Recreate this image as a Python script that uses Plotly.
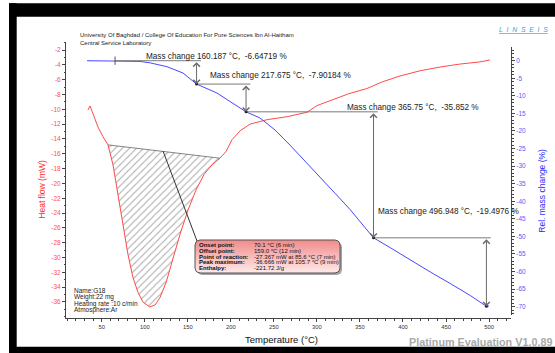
import numpy as np
import plotly.graph_objects as go

# ---------------- data ----------------
# DSC heat flow (mW) against temperature (°C)
hf_temp = [34, 36.4, 39.9, 45.7, 51.5, 57.3, 63.1, 68.9, 74.7, 80.5, 86.3, 92.1, 97.9,
           105.7, 112, 117.7, 124.7, 131.6, 140.9, 150.2, 159.5, 168.8, 178.1, 187.4,
           194.4, 201.4, 210.8, 222.3, 242.1, 265.3, 288.5, 300.1, 318.7, 337, 358,
           376, 396.6, 420, 443, 466, 489.5, 501]
hf_mw = [-10.1, -9.55, -10.6, -12.4, -13.7, -14.8, -17.5, -21.5, -25.6, -29.6, -32.7,
         -34.7, -36.0, -36.666, -36.4, -35.4, -33.4, -30.6, -26.9, -23.6, -20.9, -18.8,
         -17.5, -16.6, -15.7, -14.1, -12.9, -12.0, -11.4, -11.0, -10.4, -9.5, -8.7,
         -7.9, -7.2, -6.3, -5.5, -4.8, -4.3, -3.9, -3.6, -3.35]

# TG relative mass change (%) against temperature (°C)
tg_temp = [33, 77, 94.5, 106, 125.8, 144.4, 160.187, 183.9, 202.5, 217.675, 233.9,
           251.3, 268.7, 286.2, 303.6, 321, 338.4, 352.3, 365.75, 385.2, 408.4, 431.6,
           454.9, 478.1, 496.948, 500]
tg_pct = [0, 0, -0.2, -0.6, -1.7, -3.5, -6.64719, -9.2, -12.05, -14.54903, -16.3,
          -19.7, -24.0, -28.5, -33.1, -37.7, -42.3, -46.5, -50.40103, -53.2, -56.7,
          -60.1, -63.4, -66.8, -69.89863, -69.8]

# mass-change steps evaluated on the TG curve
step_start = 65.5
step_temp = [160.187, 217.675, 365.75, 496.948]
step_delta = [-6.64719, -7.90184, -35.852, -19.4976]

# integration limits of the endothermic peak (°C)
peak_limits = [57.3, 187.4]

# peak evaluation results
peak_labels = ["Onset point:", "Offset point:", "Point of reaction:", "Peak maximum:", "Enthalpy:"]
peak_values = ["70.1 °C (6 min)", "159.0 °C (12 min)", "-27.367 mW at 85.6 °C (7 min)",
               "-36.666 mW at 105.7 °C (9 min)", "-221.72 J/g"]

sample_info = ["Name:G18", "Weight:22 mg", "Heating rate :10 c/min", "Atmosphere:Ar"]

# axis ticks
x_ticks = [50, 100, 150, 200, 250, 300, 350, 400, 450, 500]
hf_ticks = [-2, -4, -6, -8, -10, -12, -14, -16, -18, -20, -22, -24, -26, -28, -30,
            -32, -34, -36]
tg_ticks = [0, -5, -10, -15, -20, -25, -30, -35, -40, -45, -50, -55, -60, -65, -70]

# ---------------- layout helpers ----------------
W, H = 555, 353
ML, MR, MT, MB = 66, 44, 42, 35
PW, PH = W - ML - MR, H - MT - MB
X_RANGE = [8.5, 525.5]
HF_RANGE = [-38.16, -0.92]
TG_RANGE = [-72.36, 3.9]


def px(x):
    return (x - ML) / PW


def py(y):
    return (H - MB - y) / PH


def t_at(x):
    return X_RANGE[0] + (x - ML) / PW * (X_RANGE[1] - X_RANGE[0])


def mw_at(y):
    return HF_RANGE[1] - (y - MT) / PH * (HF_RANGE[1] - HF_RANGE[0])


def text_at(x, y, text, size, color, xanchor="left", angle=0, **font_extra):
    fig.add_annotation(x=px(x), y=py(y), xref="paper", yref="paper", xanchor=xanchor,
                       yanchor="middle", showarrow=False, text=text, textangle=angle,
                       font=dict(family=FONT, size=size, color=color, **font_extra))


RED = "#ff4a4a"
BLUE = "#4848ff"
GREY = "#7a7a7a"
FONT = "Liberation Sans"

fig = go.Figure()

# hatched peak area between the straight baseline and the DSC curve
t_arr = np.array(hf_temp)
m_arr = np.array(hf_mw)
lo, hi = peak_limits
inside = (t_arr > lo) & (t_arr < hi)
poly_t = [lo] + t_arr[inside].tolist() + [hi]
poly_m = [float(np.interp(lo, t_arr, m_arr))] + m_arr[inside].tolist() + [float(np.interp(hi, t_arr, m_arr))]
fig.add_trace(go.Scatter(
    x=poly_t, y=poly_m, xaxis="x", yaxis="y", mode="lines", fill="toself",
    line=dict(width=0), fillcolor="rgba(0,0,0,0)",
    fillpattern=dict(shape="/", fgcolor="#505050", bgcolor="rgba(255,255,255,0)",
                     size=5, solidity=0.2),
    hoverinfo="skip", showlegend=False))
fig.add_trace(go.Scatter(
    x=[poly_t[0], poly_t[-1]], y=[poly_m[0], poly_m[-1]], mode="lines",
    line=dict(color="#666666", width=0.8), hoverinfo="skip", showlegend=False))

# DSC curve
fig.add_trace(go.Scatter(x=hf_temp, y=hf_mw, xaxis="x", yaxis="y", mode="lines",
                         line=dict(color=RED, width=1), showlegend=False))

# leader line from the peak area to the result box
box_x0, box_x1, box_y0, box_y1 = 195, 340, 240, 273
fig.add_trace(go.Scatter(x=[t_at(163), t_at(box_x0 + 2)], y=[mw_at(151), mw_at(box_y0 + 1)],
                         mode="lines", line=dict(color="#333333", width=1),
                         hoverinfo="skip", showlegend=False))


def rounded_box(x0, y0, x1, y1, r):
    xs, ys = [], []
    corners = [(x1 - r, y0 + r, -90, 0), (x1 - r, y1 - r, 0, 90),
               (x0 + r, y1 - r, 90, 180), (x0 + r, y0 + r, 180, 270)]
    for cx, cy, a0, a1 in corners:
        for a in np.linspace(np.radians(a0), np.radians(a1), 6):
            xs.append(cx + r * np.cos(a))
            ys.append(cy + r * np.sin(a))
    xs.append(xs[0])
    ys.append(ys[0])
    return [t_at(v) for v in xs], [mw_at(v) for v in ys]


# shadow and gradient-filled result box
sx, sy = rounded_box(box_x0 + 2, box_y0 + 2, box_x1 + 2, box_y1 + 2, 5)
fig.add_trace(go.Scatter(x=sx, y=sy, mode="lines", fill="toself",
                         fillcolor="rgba(90,90,90,0.55)", line=dict(width=0),
                         hoverinfo="skip", showlegend=False))
bx, by = rounded_box(box_x0, box_y0, box_x1, box_y1, 5)
fig.add_trace(go.Scatter(x=bx, y=by, mode="lines", fill="toself",
                         fillgradient=dict(type="vertical",
                                           colorscale=[[0, "#ffeaea"], [1, "#f28a8a"]]),
                         line=dict(color="#555555", width=1),
                         hoverinfo="skip", showlegend=False))

# TG curve
fig.add_trace(go.Scatter(x=tg_temp, y=tg_pct, xaxis="x", yaxis="y2", mode="lines",
                         line=dict(color=BLUE, width=1), showlegend=False))

# mass-change steps: level lines, double arrows and labels
levels = [0.0]
for d in step_delta:
    levels.append(levels[-1] + d)
starts = [step_start] + step_temp[:-1]
label_pos = [(144, 56), (207.7, 75.7), (345, 107.3), (375.7, 211.3)]
for i, t in enumerate(step_temp):
    before, after = levels[i], levels[i + 1]
    fig.add_trace(go.Scatter(x=[starts[i], t + 5], y=[before, before], xaxis="x", yaxis="y2",
                             mode="lines", line=dict(color=GREY, width=1),
                             hoverinfo="skip", showlegend=False))
    fig.add_annotation(x=t, y=after, ax=t, ay=before, xref="x", yref="y2",
                       axref="x", ayref="y2", text="", showarrow=True,
                       arrowhead=4, startarrowhead=4, arrowside="end+start",
                       arrowsize=1.3, startarrowsize=1.3, arrowwidth=1,
                       arrowcolor="#6a6a6a", standoff=0, startstandoff=0)
    lx, ly = label_pos[i]
    text_at(lx, ly, f"Mass change {t} °C,\u00a0\u00a0{step_delta[i]} %", 8.2, "#222222")

fig.add_trace(go.Scatter(x=[step_start], y=[0], xaxis="x", yaxis="y2", mode="markers",
                         marker=dict(symbol="line-ns", size=6, line=dict(width=1, color="#555555")),
                         hoverinfo="skip", showlegend=False))
fig.add_trace(go.Scatter(x=step_temp, y=levels[1:], xaxis="x", yaxis="y2", mode="markers",
                         marker=dict(symbol="circle", size=3, color="#202020"),
                         hoverinfo="skip", showlegend=False))

# peak result text
for i, (lab, val) in enumerate(zip(peak_labels, peak_values)):
    yy = 245 + 5.8 * i
    text_at(197, yy, f"<b>{lab}</b>", 6, "#111111")
    text_at(252, yy, val, 6, "#111111")

# sample information
for i, line in enumerate(sample_info):
    text_at(72, 290.7 + 6.4 * i, line, 6.5, "#222222")

# header and footer texts
text_at(77.7, 35, "University Of Baghdad / College Of Education For Pure Sciences Ibn Al-Haitham",
        6, "#222222")
text_at(77.7, 43.3, "Central Service Laboratory", 6, "#222222")
text_at(523, 29.3, "\u00a0\u00a0".join("LINSEIS"), 6.8, "#3a9fd6", xanchor="center",
        style="italic", lineposition="under")
text_at(554, 341.5, "Platinum Evaluation V1.0.89", 10.8, "#a9a9a9", xanchor="right",
        weight="bold")

# axis titles
text_at(41.7, 189, "Heat flow (mW)", 8.5, "#ff2a2a", xanchor="center", angle=-90)
text_at(541.7, 191, "Rel. mass change (%)", 8.5, "#2a2aff", xanchor="center", angle=-90)
text_at(281, 339.5, "Temperature (°C)", 9.5, "#111111", xanchor="center")

# black window frame
for x0, y0, x1, y1 in [(9, 3.3, 555, 16.7), (9, 3.3, 16.7, 353), (9, 346.7, 555, 353)]:
    fig.add_shape(type="rect", xref="paper", yref="paper", x0=px(x0), x1=px(x1),
                  y0=py(y1), y1=py(y0), fillcolor="black", line=dict(width=0), layer="above")

axis_common = dict(showgrid=False, zeroline=False, showline=True, linecolor="#444444",
                   linewidth=1, ticks="outside", ticklen=3, tickwidth=1, tickcolor="#444444")

fig.update_layout(
    width=W, height=H,
    margin=dict(l=ML, r=MR, t=MT, b=MB),
    paper_bgcolor="white", plot_bgcolor="rgba(0,0,0,0)",
    showlegend=False,
    xaxis=dict(range=X_RANGE, tickmode="array", tickvals=x_ticks,
               ticktext=[str(v) for v in x_ticks], anchor="y",
               tickfont=dict(family=FONT, size=5.8, color="#333333"),
               minor=dict(tickmode="linear", tick0=0, dtick=10, ticks="outside",
                          ticklen=1.5, tickcolor="#444444"),
               **axis_common),
    yaxis=dict(range=HF_RANGE, tickmode="array", tickvals=hf_ticks,
               ticktext=[str(v) for v in hf_ticks], anchor="x",
               tickfont=dict(family=FONT, size=6.5, color="#ff5050"),
               minor=dict(tickmode="linear", tick0=0, dtick=1, ticks="outside",
                          ticklen=1.5, tickcolor="#444444"),
               **axis_common),
    yaxis2=dict(range=TG_RANGE, domain=[py(315), py(47)], anchor="x", side="right",
                tickmode="array", tickvals=tg_ticks, ticktext=[str(v) for v in tg_ticks],
                tickfont=dict(family=FONT, size=6.5, color="#5a5aff"),
                minor=dict(tickmode="linear", tick0=0, dtick=1, ticks="outside",
                           ticklen=1.5, tickcolor="#444444"),
                **axis_common),
)

fig.write_html("out.html")
